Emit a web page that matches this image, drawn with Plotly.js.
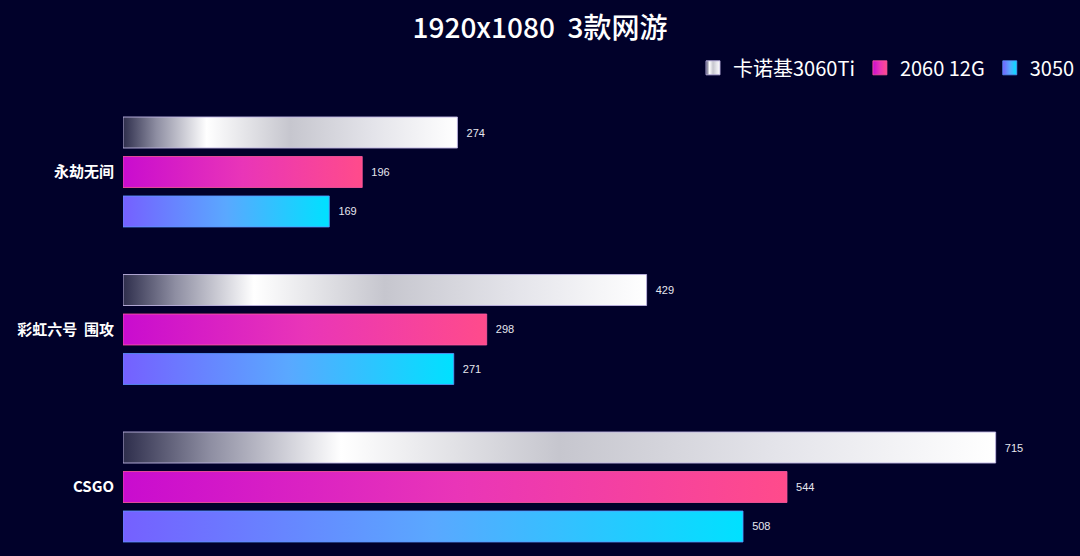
<!DOCTYPE html>
<html>
<head>
<meta charset="utf-8">
<script src="https://cdn.plot.ly/plotly-3.0.1.min.js"></script>
<style>
    html, body { margin: 0; padding: 0; background: #01012a; }
    #plot { width: 1080px; height: 556px; }
</style>
</head>
<body>
<div id="plot"></div>
<script>
const games = ['永劫无间', '彩虹六号  围攻', 'CSGO']
const seriesNames = ['卡诺基3060Ti', '2060 12G', '3050']
const fps3060Ti = [274, 429, 715]
const fps2060 = [196, 298, 544]
const fps3050 = [169, 271, 508]

// gradient stops for each series (offset, colour), left to right
const gradients = [
    [[0, '#2e2e4c'], [0.1, '#8e8ea2'], [0.25, '#ffffff'], [0.5, '#c6c6ce'], [0.75, '#e4e4ea'], [1, '#ffffff']],
    [[0, '#c90ccf'], [0.5, '#e935b8'], [1, '#ff4b8b']],
    [[0, '#7560ff'], [0.5, '#5aa8ff'], [1, '#00e1ff']]
]
const borderColors = ['rgba(190,180,225,0.9)', 'rgba(255,90,160,0.8)', 'rgba(90,150,255,0.8)']
const allSeries = [fps3060Ti, fps2060, fps3050]

function makeTrace(i) {
    return {
        type: 'bar',
        orientation: 'h',
        name: seriesNames[i],
        y: games,
        x: allSeries[i],
        marker: {
            color: gradients[i][gradients[i].length - 1][1],
            line: { color: borderColors[i], width: 1 }
        },
        texttemplate: '\u00a0\u00a0%{x}',
        textposition: 'outside',
        outsidetextfont: { color: '#e6e6ee', size: 11, family: 'Liberation Sans, Arial, sans-serif' },
        cliponaxis: false,
        hoverinfo: 'x+name'
    }
}

const data = [0, 1, 2].map(makeTrace)

const layout = {
    width: 1080,
    height: 556,
    paper_bgcolor: '#01012a',
    plot_bgcolor: '#01012a',
    margin: { l: 123, r: 5, t: 100, b: 0 },
    barmode: 'group',
    bargap: 0.248,
    bargroupgap: 0.215,
    showlegend: true,
    title: {
        text: '1920x1080  3款网游',
        x: 0.5,
        xanchor: 'center',
        y: 0.95,
        yanchor: 'middle',
        font: { family: 'Noto Sans CJK SC, sans-serif', size: 28, color: '#ffffff', weight: 500 }
    },
    legend: {
        orientation: 'h',
        xref: 'container',
        yref: 'container',
        x: 1,
        xanchor: 'right',
        y: 0.878,
        yanchor: 'middle',
        font: { family: 'Noto Sans CJK SC, sans-serif', size: 20, color: '#ffffff' },
        itemwidth: 30,
        traceorder: 'normal',
        bgcolor: 'rgba(0,0,0,0)'
    },
    xaxis: {
        range: [0, 780],
        showgrid: false,
        zeroline: false,
        showline: false,
        showticklabels: false,
        ticks: ''
    },
    yaxis: {
        range: [2.438, -0.457],
        showgrid: false,
        zeroline: false,
        showline: false,
        ticks: '',
        ticklabelstandoff: 8,
        tickfont: { family: 'Noto Sans CJK SC, sans-serif', size: 15, color: '#ffffff', weight: 'bold' }
    }
}

function applyGradients(gd) {
    const svgNS = 'http://www.w3.org/2000/svg'
    const svg = gd.querySelector('.main-svg')
    let defs = svg.querySelector('defs')
    if (!defs) {
        defs = document.createElementNS(svgNS, 'defs')
        svg.insertBefore(defs, svg.firstChild)
    }
    gradients.forEach((stops, i) => {
        const grad = document.createElementNS(svgNS, 'linearGradient')
        grad.setAttribute('id', 'barGrad' + i)
        grad.setAttribute('x1', '0')
        grad.setAttribute('y1', '0')
        grad.setAttribute('x2', '1')
        grad.setAttribute('y2', '0')
        stops.forEach((s) => {
            const stop = document.createElementNS(svgNS, 'stop')
            stop.setAttribute('offset', s[0])
            stop.setAttribute('stop-color', s[1])
            grad.appendChild(stop)
        })
        defs.appendChild(grad)
    })
    gd.querySelectorAll('.barlayer .trace').forEach((tr, i) => {
        tr.querySelectorAll('.point path').forEach((p) => {
            p.style.fill = 'url(#barGrad' + i + ')'
        })
    })
    // legend swatches: same gradient, a bit bigger like the original
    gd.querySelectorAll('.legend .traces').forEach((tr, i) => {
        tr.querySelectorAll('.legendpoints path').forEach((p) => {
            p.setAttribute('d', 'M7,7H-7V-7H7Z')
            p.style.fill = 'url(#barGrad' + i + ')'
        })
    })
}

Plotly.newPlot('plot', data, layout, { displayModeBar: false, staticPlot: true })
    .then(applyGradients)
    .catch((err) => console.error(err))
</script>
</body>
</html>
